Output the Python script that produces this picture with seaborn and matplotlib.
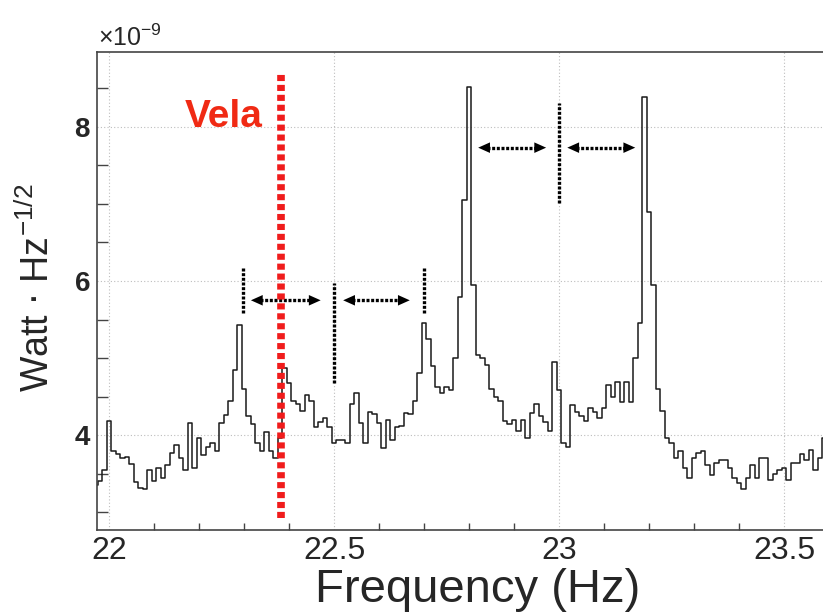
import numpy as np
import pandas as pd
import matplotlib
matplotlib.use("Agg")
import matplotlib.pyplot as plt
import seaborn as sns
from matplotlib.ticker import MultipleLocator

sns.set_style("white")
plt.rcParams['font.family'] = ['Liberation Sans', 'DejaVu Sans']

# spectrum: amplitude spectral density in units of 1e-9 W/sqrt(Hz), 0.01 Hz bins
f_start = 21.97
bin_width = 0.01
asd = [
    3.35, 3.40, 3.55, 4.19, 3.80, 3.75, 3.70, 3.72, 3.63, 3.39,
    3.31, 3.30, 3.55, 3.40, 3.58, 3.45, 3.61, 3.77, 3.87, 3.71,
    3.55, 4.16, 3.58, 3.97, 3.74, 3.85, 3.90, 3.80, 4.16, 4.26,
    4.45, 4.84, 5.43, 4.60, 4.25, 4.15, 3.90, 3.80, 4.04, 3.80,
    3.70, 3.97, 4.87, 4.68, 4.45, 4.40, 4.32, 4.52, 4.45, 4.10,
    4.17, 4.22, 4.10, 3.90, 3.94, 3.94, 3.90, 4.41, 4.55, 4.16,
    3.90, 4.30, 4.28, 4.16, 3.83, 4.20, 3.94, 4.10, 4.12, 4.29,
    4.27, 4.45, 4.81, 5.45, 5.25, 4.90, 4.62, 4.55, 4.62, 4.58,
    5.00, 5.79, 7.05, 8.52, 5.95, 5.04, 5.00, 4.91, 4.60, 4.50,
    4.45, 4.19, 4.15, 4.20, 4.06, 4.20, 3.97, 4.29, 4.40, 4.25,
    4.17, 4.06, 4.95, 4.58, 3.90, 3.85, 4.39, 4.30, 4.25, 4.19,
    4.35, 4.30, 4.22, 4.35, 4.65, 4.49, 4.69, 4.43, 4.69, 4.43,
    5.00, 5.45, 8.39, 6.90, 5.95, 4.60, 4.32, 3.97, 3.90, 3.70,
    3.80, 3.58, 3.45, 3.70, 3.77, 3.80, 3.61, 3.48, 3.64, 3.68,
    3.68, 3.58, 3.45, 3.38, 3.30, 3.44, 3.61, 3.45, 3.70, 3.70,
    3.42, 3.50, 3.55, 3.57, 3.42, 3.64, 3.64, 3.75, 3.68, 3.81,
    3.55, 3.70, 3.96, 3.96,
]
freq = np.round(f_start + bin_width * np.arange(len(asd)), 2)

# Vela line and sideband markers
vela_freq = 22.382
vela_span = (2.92, 8.70)
marker_freqs = [22.298, 22.5, 22.7, 23.0]
marker_spans = [(5.58, 6.18), (4.68, 5.97), (5.58, 6.18), (7.01, 8.31)]
arrow_spans = [(22.315, 22.470), (22.520, 22.668), (22.820, 22.971), (23.018, 23.169)]
arrow_levels = [5.75, 5.75, 7.73, 7.73]

df = pd.DataFrame({"Frequency": freq, "ASD": asd})

fig = plt.figure(figsize=(8.23, 6.14), dpi=100)
ax = fig.add_axes([97 / 823, 1 - 530 / 614, 761 / 823, (530 - 51.7) / 614])

sns.lineplot(data=df, x="Frequency", y="ASD", ax=ax, drawstyle="steps-mid",
             color="#1a1a1a", linewidth=1.1)

# Vela frequency
ax.plot([vela_freq, vela_freq], vela_span, color="#f01c1c", lw=5.5,
        linestyle=(0, (0.8, 0.5)), solid_capstyle="butt", zorder=5)
ax.text(22.34, 8.0, "Vela", color="#f02a14", fontsize=28, fontweight="bold",
        ha="right", va="baseline")

# sideband markers
for fm, (lo, hi) in zip(marker_freqs, marker_spans):
    ax.plot([fm, fm], [lo, hi], color="black", lw=2.4,
            linestyle=(0, (0.9, 0.5)), zorder=4)

# double arrows: solid heads, dotted shaft
for (a, b), lev in zip(arrow_spans, arrow_levels):
    ax.annotate("", xy=(b, lev), xytext=(a, lev),
                arrowprops=dict(arrowstyle="<|-|>,head_length=0.85,head_width=0.38",
                                lw=0, fc="black", ec="none", shrinkA=0, shrinkB=0,
                                mutation_scale=10))
    ax.plot([a + 0.02, b - 0.02], [lev, lev], color="black", lw=2.4,
            linestyle=(0, (0.9, 0.5)))

ax.set_xlim(21.973, 23.664)
ax.set_ylim(2.77, 8.975)
ax.xaxis.set_major_locator(MultipleLocator(0.5))
ax.xaxis.set_minor_locator(MultipleLocator(0.1))
ax.yaxis.set_major_locator(MultipleLocator(2))
ax.yaxis.set_minor_locator(MultipleLocator(0.5))
ax.set_xticks([22, 22.5, 23, 23.5])
ax.set_xticklabels(["22", "22.5", "23", "23.5"])
ax.set_yticks([4, 6, 8])
ax.set_yticklabels(["4", "6", "8"])

ax.tick_params(axis="x", which="major", direction="in", length=13, width=1,
               color="#444444", labelsize=23, pad=4, top=False)
ax.tick_params(axis="x", which="minor", direction="in", length=5, width=1,
               color="#444444", bottom=True, top=False)
ax.tick_params(axis="y", which="major", direction="in", length=14, width=1,
               color="#444444", labelsize=20, pad=5)
ax.tick_params(axis="y", which="minor", direction="in", length=8, width=1,
               color="#444444", left=True)
for lab in ax.get_yticklabels():
    lab.set_fontweight("bold")

ax.grid(True, which="major", color="#bdbdbd", linestyle=(0, (1, 2)), lw=0.8)
for side in ["left", "bottom", "top", "right"]:
    ax.spines[side].set_color("#444444")
    ax.spines[side].set_linewidth(1.2)

ax.set_xlabel("Frequency (Hz)", fontsize=34, labelpad=2)
ax.set_ylabel(r"Watt $\cdot$ Hz$^{\mathregular{-1/2}}$", fontsize=27)
ax.yaxis.set_label_coords(-0.052, 0.506)

fig.text(98 / 823, 1 - 46 / 614, r"$\mathregular{\times10^{-9}}$", fontsize=18,
         ha="left", va="baseline")

fig.savefig("out.png", dpi=100)
